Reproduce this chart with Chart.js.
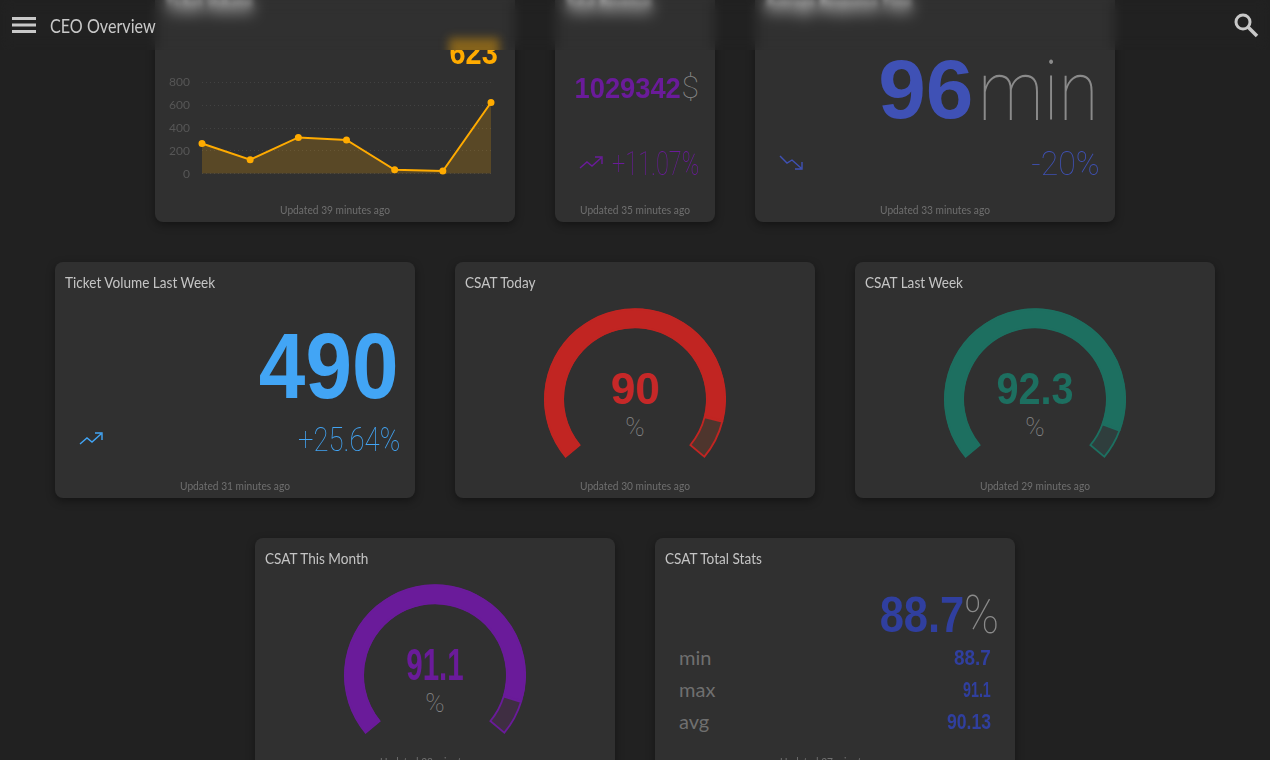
<!DOCTYPE html>
<html>
<head>
<meta charset="utf-8">
<title>CEO Overview</title>
<script src="https://cdn.jsdelivr.net/npm/chart.js@4"></script>
<style>
  html, body { margin: 0; height: 760px; overflow: hidden; background: #212121; font-family: Lato, sans-serif; }
  #page { position: absolute; left: 0; top: 0; width: 1270px; height: 760px; overflow: hidden; }
  .card { position: absolute; background: #303030; border-radius: 8px; box-shadow: 0 3px 8px rgba(0,0,0,.4); }
  .title { position: absolute; left: 10px; top: 10px; font-size: 16px; color: #c4c4c4; white-space: nowrap; transform: scaleX(.85); transform-origin: left; }
  .title.hid { top: 4px; font-size: 21px; color: #fff; font-weight: 900; transform: scaleX(.66); filter: blur(4px); }
  .foot { position: absolute; left: 0; right: 0; text-align: center; font-size: 12px; color: #6f6f6f; white-space: nowrap; transform: scaleX(.85); }
  .txt { position: absolute; white-space: nowrap; line-height: 1; }
  .r { transform-origin: right; }
  .b { font-family: "Liberation Sans", sans-serif; font-weight: 700; }
  .thin { font-family: Roboto, sans-serif; font-weight: 100; }
  .mid { left: 0; right: 0; text-align: center; }
  canvas { position: absolute; }
  header { position: absolute; left: 0; top: 0; width: 1270px; height: 50px; overflow: hidden; backdrop-filter: blur(7px); }
  header .name { position: absolute; left: 50px; top: 14px; font-size: 19px; color: #c8c8c8; transform: scaleX(.85); transform-origin: left; white-space: nowrap; }
  .glow { position: absolute; left: 449px; top: 38px; width: 50px; height: 20px; background: rgba(255,171,0,.42); filter: blur(5px); }
  svg { position: absolute; }
</style>
</head>
<body>
<div id="page">
  <div class="card" style="left:155px;top:-14px;width:360px;height:236px">
    <div class="title hid">Ticket Volume</div>
    <div class="txt b r" style="right:17px;top:49px;font-size:34px;color:#ffab00;transform:scaleX(.85);clip-path:inset(15px 0 0 0)">623</div>
    <div class="foot" style="top:216px">Updated 39 minutes ago</div>
  </div>
  <div class="card" style="left:555px;top:-14px;width:160px;height:236px">
    <div class="title hid">Total Revenue</div>
    <div class="txt b r" style="right:34px;top:87px;font-size:30px;color:#6a1b9a;transform:scaleX(.91)">1029342</div>
    <div class="txt thin" style="right:16px;top:85px;font-size:32px;color:#8a8a8a">$</div>
    <svg style="left:24px;top:167px" width="26" height="20" viewBox="0 0 26 20" fill="none" stroke="#6a1b9a" stroke-width="1.4"><path d="M1 15 L8 9 L13 13 L22 5 M16 4 H23 V11"/></svg>
    <div class="txt thin r" style="right:16px;top:160px;font-size:34px;color:#6a1b9a;transform:scaleX(.69)">+11.07%</div>
    <div class="foot" style="top:216px">Updated 35 minutes ago</div>
  </div>
  <div class="card" style="left:755px;top:-14px;width:360px;height:236px">
    <div class="title hid">Average Response Time</div>
    <div class="txt b r" style="right:142px;top:61px;font-size:84px;color:#3f51b5;transform:scaleX(1.02)">96</div>
    <div class="txt thin r" style="right:16px;top:64px;font-size:84px;color:#8a8a8a;transform:scaleX(.87)">min</div>
    <svg style="left:24px;top:167px" width="26" height="20" viewBox="0 0 26 20" fill="none" stroke="#3f51b5" stroke-width="1.4"><path d="M1 3 L8 10 L13 7 L22 15 M23 9 V16 H16"/></svg>
    <div class="txt thin r" style="right:15px;top:160px;font-size:34px;color:#3f51b5;transform:scaleX(.94)">-20%</div>
    <div class="foot" style="top:216px">Updated 33 minutes ago</div>
  </div>

  <div class="card" style="left:55px;top:262px;width:360px;height:236px">
    <div class="title">Ticket Volume Last Week</div>
    <div class="txt b r" style="right:17px;top:58px;font-size:92px;color:#42a5f5;transform:scaleX(.91)">490</div>
    <svg style="left:24px;top:167px" width="26" height="20" viewBox="0 0 26 20" fill="none" stroke="#42a5f5" stroke-width="1.4"><path d="M1 15 L8 9 L13 13 L22 5 M16 4 H23 V11"/></svg>
    <div class="txt thin r" style="right:15px;top:160px;font-size:34px;color:#42a5f5;transform:scaleX(.81)">+25.64%</div>
    <div class="foot" style="top:216px">Updated 31 minutes ago</div>
  </div>
  <div class="card" style="left:455px;top:262px;width:360px;height:236px">
    <div class="title">CSAT Today</div>
    <div class="txt b mid" style="top:105px;font-size:44px;color:#c62828">90</div>
    <div class="txt thin mid" style="top:152px;font-size:26px;color:#8a8a8a">%</div>
    <div class="foot" style="top:216px">Updated 30 minutes ago</div>
  </div>
  <div class="card" style="left:855px;top:262px;width:360px;height:236px">
    <div class="title">CSAT Last Week</div>
    <div class="txt b mid" style="top:105px;font-size:44px;color:#1d6f60;transform:scaleX(.9)">92.3</div>
    <div class="txt thin mid" style="top:152px;font-size:26px;color:#8a8a8a">%</div>
    <div class="foot" style="top:216px">Updated 29 minutes ago</div>
  </div>

  <div class="card" style="left:255px;top:538px;width:360px;height:236px">
    <div class="title">CSAT This Month</div>
    <div class="txt b mid" style="top:105px;font-size:44px;color:#6a1b9a;transform:scaleX(.67)">91.1</div>
    <div class="txt thin mid" style="top:152px;font-size:26px;color:#8a8a8a">%</div>
    <div class="foot" style="top:216px">Updated 28 minutes ago</div>
  </div>
  <div class="card" style="left:655px;top:538px;width:360px;height:236px">
    <div class="title">CSAT Total Stats</div>
    <div class="txt b r" style="right:51px;top:52px;font-size:50px;color:#303f9f;transform:scaleX(.87)">88.7</div>
    <div class="txt thin r" style="right:16px;top:50px;font-size:54px;color:#8a8a8a;transform:scaleX(.88)">%</div>
    <div class="txt" style="left:24px;top:109px;font-size:20px;color:#6f6f6f">min</div>
    <div class="txt b r" style="right:24px;top:109px;font-size:22px;color:#303f9f;transform:scaleX(.86)">88.7</div>
    <div class="txt" style="left:24px;top:141px;font-size:20px;color:#6f6f6f">max</div>
    <div class="txt b r" style="right:24px;top:141px;font-size:22px;color:#303f9f;transform:scaleX(.65)">91.1</div>
    <div class="txt" style="left:24px;top:173px;font-size:20px;color:#6f6f6f">avg</div>
    <div class="txt b r" style="right:24px;top:173px;font-size:22px;color:#303f9f;transform:scaleX(.8)">90.13</div>
    <div class="foot" style="top:216px">Updated 27 minutes ago</div>
  </div>

  <canvas id="volumeChart" style="left:155px;top:63px;width:342px;height:130px" width="342" height="130"></canvas>
  <canvas id="gaugeToday" style="left:544px;top:307px;width:182px;height:152px" width="182" height="152"></canvas>
  <canvas id="gaugeWeek" style="left:944px;top:307px;width:182px;height:152px" width="182" height="152"></canvas>
  <canvas id="gaugeMonth" style="left:344px;top:583px;width:182px;height:152px" width="182" height="152"></canvas>

  <header>
    <div class="glow"></div>
    <svg style="left:12px;top:16px" width="24" height="18" viewBox="0 0 24 18" fill="#c8c8c8"><rect y="1" width="24" height="3"/><rect y="7.5" width="24" height="3"/><rect y="14" width="24" height="3"/></svg>
    <div class="name">CEO Overview</div>
    <svg style="left:1233px;top:12px" width="26" height="26" viewBox="0 0 26 26" fill="none" stroke="#c8c8c8"><circle cx="10" cy="10" r="7" stroke-width="3"/><path d="M15 15 L24 24" stroke-width="3.5"/></svg>
  </header>
</div>

<script>
const volumeDays = ["1", "2", "3", "4", "5", "6", "7"];
const volumeValues = [265, 123, 318, 295, 35, 24, 623];
const volumeTicks = [0, 200, 400, 600, 800];

const gaugeMax = 100;
const csatToday = 90;
const csatWeek = 92.3;
const csatMonth = 91.1;

// Small ticket volume line with dotted grid
new Chart(document.getElementById("volumeChart"), {
  type: "line",
  data: {
    labels: volumeDays,
    datasets: [{
      data: volumeValues,
      borderColor: "#ffab00",
      borderWidth: 2,
      backgroundColor: "rgba(255,171,0,0.2)",
      pointBackgroundColor: "#ffab00",
      pointBorderColor: "#ffab00",
      pointRadius: 2.5,
      fill: true,
      tension: 0,
      clip: false,
    }]
  },
  options: {
    responsive: false,
    animation: false,
    layout: { padding: { top: 10, bottom: 5, right: 2 } },
    plugins: { legend: { display: false }, tooltip: { enabled: false } },
    scales: {
      x: { display: false, offset: false },
      y: {
        min: volumeTicks[0],
        max: volumeTicks[volumeTicks.length - 1],
        afterFit: scale => { scale.width = 47; },
        afterBuildTicks: scale => { scale.ticks = volumeTicks.map(value => ({ value })); },
        border: { display: false, dash: [1, 3] },
        grid: { color: "rgba(255,255,255,0.09)", tickLength: 0, lineWidth: 1 },
        ticks: { color: "#565656", padding: 12, font: { size: 12, family: "Lato" } },
      },
    },
  },
});

// Gauge: filled value plus a tinted remainder, 260 degree sweep
function drawGauge(id, value, color, tint) {
  new Chart(document.getElementById(id), {
    type: "doughnut",
    data: {
      datasets: [{
        data: [value, gaugeMax - value],
        backgroundColor: [color, tint],
        borderColor: [color, color],
        borderWidth: 1.5,
        borderAlign: "inner",
      }]
    },
    options: {
      responsive: false,
      animation: false,
      rotation: -130,
      circumference: 260,
      cutout: "78%",
      plugins: { legend: { display: false }, tooltip: { enabled: false } },
    },
  });
}

drawGauge("gaugeToday", csatToday, "#c12522", "rgba(255,87,34,0.15)");
drawGauge("gaugeWeek", csatWeek, "#1d6f60", "rgba(38,166,154,0.12)");
drawGauge("gaugeMonth", csatMonth, "#6a1b9a", "rgba(156,39,176,0.15)");
</script>
</body>
</html>
